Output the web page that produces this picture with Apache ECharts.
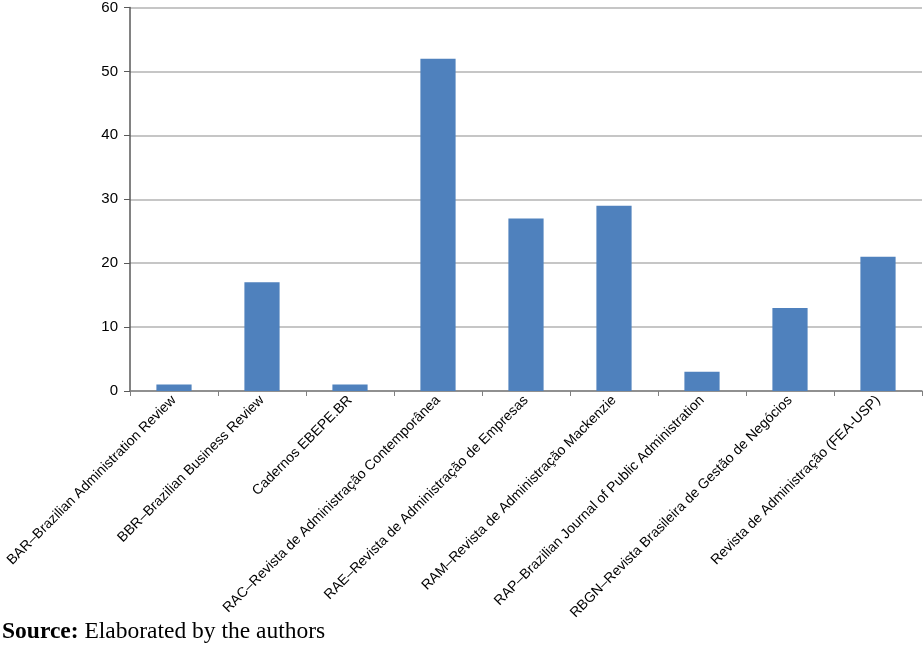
<!DOCTYPE html>
<html><head><meta charset="utf-8">
<script src="https://cdn.jsdelivr.net/npm/echarts@6/dist/echarts.min.js"></script>
<style>html,body{margin:0;padding:0;background:#fff}#c{width:923px;height:655px}</style>
</head><body><div id="c"></div>
<script>
var categories = [
  "BAR–Brazilian Administration Review",
  "BBR–Brazilian Business Review",
  "Cadernos EBEPE.BR",
  "RAC–Revista de Administração Contemporânea",
  "RAE–Revista de Administração de Empresas",
  "RAM–Revista de Administração Mackenzie",
  "RAP–Brazilian Journal of Public Administration",
  "RBGN–Revista Brasileira de Gestão de Negócios",
  "Revista de Administração (FEA-USP)"
];
var values = [1, 17, 1, 52, 27, 29, 3, 13, 21];
var yTicks = [0, 10, 20, 30, 40, 50, 60];

var chart = echarts.init(document.getElementById('c'), null, {renderer: 'canvas'});
chart.setOption({
  animation: false,
  grid: {left: 130, right: 1, top: 7, bottom: 264, containLabel: false},
  xAxis: {
    type: 'category',
    data: categories,
    axisLine: {lineStyle: {color: '#7f7f7f', width: 1.5}},
    axisTick: {show: true, alignWithLabel: false, length: 5, lineStyle: {color: '#7f7f7f'}},
    axisLabel: {rotate: 45, interval: 0, color: '#000', fontFamily: 'Liberation Sans, Arial, sans-serif', fontSize: 14, margin: 7}
  },
  yAxis: {
    type: 'value',
    min: yTicks[0], max: yTicks[yTicks.length - 1], interval: 10,
    axisLine: {show: true, lineStyle: {color: '#595959', width: 1.5}},
    axisTick: {show: true, length: 6, lineStyle: {color: '#595959'}},
    axisLabel: {color: '#000', fontFamily: 'Liberation Sans, Arial, sans-serif', fontSize: 15, margin: 12},
    splitLine: {show: true, lineStyle: {color: '#b3b3b3', width: 1.5}}
  },
  series: [{
    type: 'bar',
    data: values,
    barWidth: '40%',
    itemStyle: {color: '#4f81bd'}
  }],
  graphic: [{
    type: 'text',
    left: 2, top: 620,
    style: {
      text: '{b|Source:}{n| Elaborated by the authors}',
      rich: {
        b: {fontFamily: 'Liberation Serif, Times New Roman, serif', fontWeight: 'bold', fontSize: 23.5, fill: '#000'},
        n: {fontFamily: 'Liberation Serif, Times New Roman, serif', fontSize: 23.5, fill: '#000'}
      }
    }
  }]
});
</script></body></html>
